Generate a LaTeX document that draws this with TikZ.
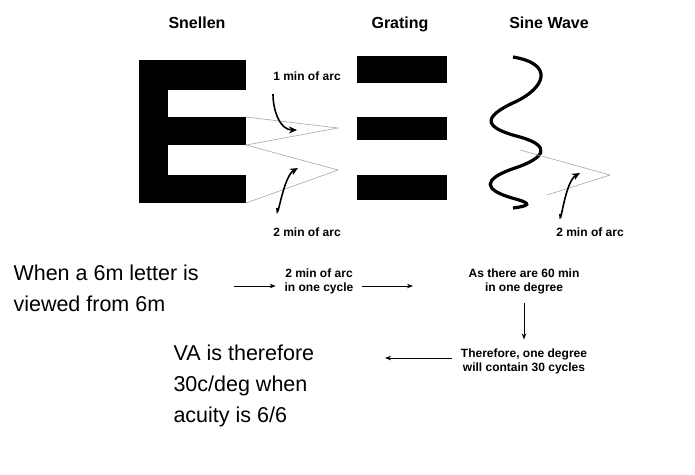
\documentclass[tikz,border=0pt]{standalone}
\usepackage{fontspec}
\setmainfont{Liberation Sans}
\usetikzlibrary{arrows.meta}
\tikzset{
  head/.style={font=\bfseries\fontsize{16}{18}\selectfont, anchor=base},
  lab/.style={font=\bfseries\fontsize{12}{14}\selectfont},
  step box/.style={font=\bfseries\fontsize{12}{14}\selectfont, align=center, inner sep=1pt, outer sep=8pt},
  big/.style={font=\fontsize{21.5}{31}\selectfont, align=left, anchor=west},
  thin line/.style={gray!70, line width=0.6pt},
  flow/.style={-{Stealth[length=6pt]}, line width=0.7pt},
  curl/.style={-{Stealth[length=8pt,width=7pt]}, line width=1.6pt}
}
\begin{document}
\begin{tikzpicture}[x=1pt,y=-1pt]
	\useasboundingbox (0,0) rectangle (695,474);
	
	% headings
	\node[head] (snellen) at (197,28) {Snellen};
	\node[head] (grating) at (400,28) {Grating};
	\node[head] (sine) at (549,28) {Sine Wave};
	
	% the letter E
	\fill (139,60) rectangle (168,203);
	\fill (139,60) rectangle (246,90);
	\fill (139,117) rectangle (246,145);
	\fill (139,175) rectangle (246,203);
	
	\draw[thin line] (246,117) -- (338,128) -- (246,145) -- (338,170) -- (246,203);
	\node[lab] (one) at (307,76) {1 min of arc};
	\node[lab] (two) at (307,232) {2 min of arc};
	\draw[curl] (273,94) to[out=-90,in=180] (297,130);
	\draw[curl] (277,208) to[out=-90,in=-150] (298,168);
	
	% grating
	\foreach \ya/\yb in {56/83, 117/140, 175/200}
		\fill (357,\ya) rectangle (447,\yb);
	
	% sine wave
	\draw[line width=3.2pt] (513,57) .. controls (555,64) and (545,88) .. (515,102)
		.. controls (480,118) and (485,128) .. (520,137)
		.. controls (552,146) and (545,158) .. (515,168)
		.. controls (480,180) and (485,190) .. (512,198)
		.. controls (535,204) and (528,206) .. (513,208);
	\draw[thin line] (520,150) -- (610,175) -- (547,195);
	\node[lab] (three) at (590,232) {2 min of arc};
	\draw[curl] (560,214) to[out=-90,in=-150] (580,173);
	
	% text below
	\node[big] (letter) at (10,288) {When a 6m letter is\\viewed from 6m};
	\node[step box] (cycle) at (319,281) {2 min of arc\\in one cycle};
	\node[step box] (degree) at (524,281) {As there are 60 min\\in one degree};
	\node[step box] (contain) at (524,361) {Therefore, one degree\\will contain 30 cycles};
	\node[big] (va) at (170,386) {VA is therefore\\30c/deg when\\acuity is 6/6};
	
	\coordinate (a1) at (234,286);
	\coordinate (a2) at (413,286);
	\coordinate (a3) at (385,358);
	\draw[flow] (a1) -- (cycle.west |- a1);
	\draw[flow] (cycle.east |- a2) -- (a2);
	\draw[flow] (degree) -- (contain);
	\draw[flow] (contain.west |- a3) -- (a3);
\end{tikzpicture}
\end{document}
